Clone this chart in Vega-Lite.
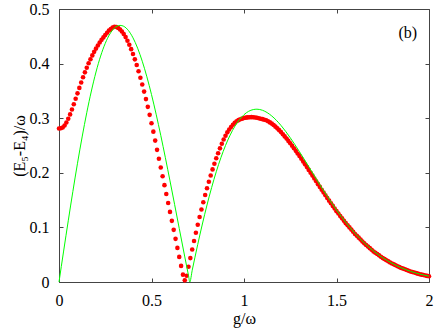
{
  "$schema": "https://vega.github.io/schema/vega-lite/v6.json",
  "width": 370,
  "height": 273,
  "autosize": {"type": "none"},
  "padding": {"left": 59, "top": 9, "right": 7, "bottom": 51},
  "config": {
    "view": {"stroke": "#444", "strokeWidth": 1},
    "font": "Liberation Serif",
    "axis": {
      "domain": false,
      "grid": false,
      "tickColor": "#444",
      "tickSize": -4,
      "labelFont": "Liberation Serif",
      "labelFontSize": 16,
      "labelColor": "#000",
      "labelFlush": false,
      "labelPadding": 14,
      "titleFont": "Liberation Serif",
      "titleFontSize": 16,
      "titleFontWeight": "normal",
      "titleColor": "#000"
    }
  },
  "datasets": {
    "red": [
      {"g":0.00,"e":0.281},{"g":0.01,"e":0.2815},{"g":0.02,"e":0.283},{"g":0.03,"e":0.2865},{"g":0.04,"e":0.292},
      {"g":0.05,"e":0.299},{"g":0.06,"e":0.307},{"g":0.07,"e":0.316},{"g":0.08,"e":0.3255},{"g":0.09,"e":0.3355},
      {"g":0.10,"e":0.3455},{"g":0.11,"e":0.3555},{"g":0.12,"e":0.3655},{"g":0.13,"e":0.375},{"g":0.14,"e":0.384},
      {"g":0.15,"e":0.3925},{"g":0.16,"e":0.4005},{"g":0.17,"e":0.408},{"g":0.18,"e":0.415},{"g":0.19,"e":0.4215},
      {"g":0.20,"e":0.4275},{"g":0.21,"e":0.433},{"g":0.22,"e":0.4385},{"g":0.23,"e":0.4435},{"g":0.24,"e":0.448},
      {"g":0.25,"e":0.4525},{"g":0.26,"e":0.4565},{"g":0.27,"e":0.4605},{"g":0.28,"e":0.4635},{"g":0.29,"e":0.466},
      {"g":0.30,"e":0.4675},{"g":0.31,"e":0.467},{"g":0.32,"e":0.4653},{"g":0.33,"e":0.4624},{"g":0.34,"e":0.4588},
      {"g":0.35,"e":0.4541},{"g":0.36,"e":0.4485},{"g":0.37,"e":0.4419},{"g":0.38,"e":0.4346},{"g":0.39,"e":0.4265},
      {"g":0.40,"e":0.4175},{"g":0.41,"e":0.4078},{"g":0.42,"e":0.3973},{"g":0.43,"e":0.3861},{"g":0.44,"e":0.3742},
      {"g":0.45,"e":0.3617},{"g":0.46,"e":0.3487},{"g":0.47,"e":0.335},{"g":0.48,"e":0.3208},{"g":0.49,"e":0.3061},
      {"g":0.50,"e":0.2909},{"g":0.51,"e":0.2754},{"g":0.52,"e":0.259},{"g":0.53,"e":0.242},{"g":0.54,"e":0.2258},
      {"g":0.55,"e":0.2097},{"g":0.56,"e":0.1936},{"g":0.57,"e":0.1774},{"g":0.58,"e":0.1612},{"g":0.59,"e":0.1448},
      {"g":0.60,"e":0.1284},{"g":0.61,"e":0.112},{"g":0.62,"e":0.0955},{"g":0.63,"e":0.079},{"g":0.64,"e":0.0625},
      {"g":0.65,"e":0.046},{"g":0.66,"e":0.0295},{"g":0.67,"e":0.0135},{"g":0.68,"e":0.003},{"g":0.69,"e":0.0114},
      {"g":0.70,"e":0.0278},{"g":0.71,"e":0.0438},{"g":0.72,"e":0.0595},{"g":0.73,"e":0.075},{"g":0.74,"e":0.0901},
      {"g":0.75,"e":0.1048},{"g":0.76,"e":0.119},{"g":0.77,"e":0.1328},{"g":0.78,"e":0.1462},{"g":0.79,"e":0.1592},
      {"g":0.80,"e":0.1717},{"g":0.81,"e":0.1837},{"g":0.82,"e":0.1952},{"g":0.83,"e":0.2062},{"g":0.84,"e":0.2166},
      {"g":0.85,"e":0.2265},{"g":0.86,"e":0.2359},{"g":0.87,"e":0.2448},{"g":0.88,"e":0.2532},{"g":0.89,"e":0.261},
      {"g":0.90,"e":0.2678},{"g":0.91,"e":0.2741},{"g":0.92,"e":0.2793},{"g":0.93,"e":0.2839},{"g":0.94,"e":0.288},
      {"g":0.95,"e":0.2917},{"g":0.96,"e":0.2943},{"g":0.97,"e":0.2964},{"g":0.98,"e":0.298},{"g":0.99,"e":0.2992},
      {"g":1.00,"e":0.3003},{"g":1.01,"e":0.301},{"g":1.02,"e":0.3015},{"g":1.03,"e":0.3018},{"g":1.04,"e":0.3019},
      {"g":1.05,"e":0.3018},{"g":1.06,"e":0.3014},{"g":1.07,"e":0.3007},{"g":1.08,"e":0.2998},{"g":1.09,"e":0.2991},
      {"g":1.10,"e":0.2983},{"g":1.11,"e":0.2973},{"g":1.12,"e":0.2961},{"g":1.13,"e":0.2943},{"g":1.14,"e":0.2923},
      {"g":1.15,"e":0.2901},{"g":1.16,"e":0.2874},{"g":1.17,"e":0.2845},{"g":1.18,"e":0.2814},{"g":1.19,"e":0.2781},
      {"g":1.20,"e":0.2747},{"g":1.21,"e":0.2707},{"g":1.22,"e":0.2667},{"g":1.23,"e":0.2626},{"g":1.24,"e":0.2584},
      {"g":1.25,"e":0.2542},{"g":1.26,"e":0.2495},{"g":1.27,"e":0.2449},{"g":1.28,"e":0.2402},{"g":1.29,"e":0.2354},
      {"g":1.30,"e":0.2306},{"g":1.31,"e":0.2256},{"g":1.32,"e":0.2205},{"g":1.33,"e":0.2155},{"g":1.34,"e":0.2104},
      {"g":1.35,"e":0.2053},{"g":1.36,"e":0.2001},{"g":1.37,"e":0.1949},{"g":1.38,"e":0.1896},{"g":1.39,"e":0.1844},
      {"g":1.40,"e":0.1792},{"g":1.41,"e":0.1742},{"g":1.42,"e":0.169},{"g":1.43,"e":0.164},{"g":1.44,"e":0.1589},
      {"g":1.45,"e":0.1538},{"g":1.46,"e":0.149},{"g":1.47,"e":0.1442},{"g":1.48,"e":0.1394},{"g":1.49,"e":0.1346},
      {"g":1.50,"e":0.1298},{"g":1.51,"e":0.1255},{"g":1.52,"e":0.121},{"g":1.53,"e":0.1166},{"g":1.54,"e":0.1121},
      {"g":1.55,"e":0.1078},{"g":1.56,"e":0.104},{"g":1.57,"e":0.1},{"g":1.58,"e":0.096},{"g":1.59,"e":0.092},
      {"g":1.60,"e":0.088},{"g":1.61,"e":0.0847},{"g":1.62,"e":0.0812},{"g":1.63,"e":0.0777},{"g":1.64,"e":0.0742},
      {"g":1.65,"e":0.0708},{"g":1.66,"e":0.0679},{"g":1.67,"e":0.0649},{"g":1.68,"e":0.062},{"g":1.69,"e":0.059},
      {"g":1.70,"e":0.056},{"g":1.71,"e":0.0537},{"g":1.72,"e":0.0512},{"g":1.73,"e":0.0488},{"g":1.74,"e":0.0463},
      {"g":1.75,"e":0.0438},{"g":1.76,"e":0.0419},{"g":1.77,"e":0.0399},{"g":1.78,"e":0.0378},{"g":1.79,"e":0.0358},
      {"g":1.80,"e":0.0338},{"g":1.81,"e":0.0323},{"g":1.82,"e":0.0306},{"g":1.83,"e":0.029},{"g":1.84,"e":0.0273},
      {"g":1.85,"e":0.0257},{"g":1.86,"e":0.0245},{"g":1.87,"e":0.0232},{"g":1.88,"e":0.0219},{"g":1.89,"e":0.0206},
      {"g":1.90,"e":0.0193},{"g":1.91,"e":0.0183},{"g":1.92,"e":0.0173},{"g":1.93,"e":0.0163},{"g":1.94,"e":0.0153},
      {"g":1.95,"e":0.0143},{"g":1.96,"e":0.0135},{"g":1.97,"e":0.0127},{"g":1.98,"e":0.012},{"g":1.99,"e":0.0112},
      {"g":2.00,"e":0.0104}
    ],
    "green": [
      {"g":0,"e":0},{"g":0.05,"e":0.1121},{"g":0.10,"e":0.2175},{"g":0.15,"e":0.31},{"g":0.20,"e":0.3846},
      {"g":0.25,"e":0.4371},{"g":0.30,"e":0.4652},{"g":0.33,"e":0.47},{"g":0.35,"e":0.4683},{"g":0.40,"e":0.4472},
      {"g":0.45,"e":0.4043},{"g":0.50,"e":0.3433},{"g":0.55,"e":0.2686},{"g":0.60,"e":0.1851},{"g":0.65,"e":0.098},
      {"g":0.68,"e":0.0459},{"g":0.70,"e":0.0119},{"g":0.707,"e":0},{"g":0.72,"e":0.0213},{"g":0.75,"e":0.0689},
      {"g":0.80,"e":0.141},{"g":0.85,"e":0.2019},{"g":0.90,"e":0.25},{"g":0.95,"e":0.2848},{"g":1.00,"e":0.3064},
      {"g":1.05,"e":0.3158},{"g":1.07,"e":0.3165},{"g":1.10,"e":0.3145},{"g":1.15,"e":0.3041},{"g":1.20,"e":0.2867},
      {"g":1.25,"e":0.2642},{"g":1.30,"e":0.2385},{"g":1.35,"e":0.2112},{"g":1.40,"e":0.1836},{"g":1.45,"e":0.157},
      {"g":1.50,"e":0.132},{"g":1.55,"e":0.1093},{"g":1.60,"e":0.0892},{"g":1.65,"e":0.0717},{"g":1.70,"e":0.0568},
      {"g":1.75,"e":0.0444},{"g":1.80,"e":0.0343},{"g":1.85,"e":0.0261},{"g":1.90,"e":0.0196},{"g":1.95,"e":0.0145},
      {"g":2.00,"e":0.0106}
    ]
  },
  "layer": [
    {
      "data": {"name": "red"},
      "mark": {"type": "circle", "color": "#ff0000", "size": 21, "opacity": 1},
      "encoding": {
        "x": {"field": "g", "type": "quantitative", "scale": {"domain": [0, 2]},
              "axis": {"orient": "bottom", "values": [0, 0.5, 1, 1.5, 2], "format": "~g", "title": "g/ω", "titlePadding": 2}},
        "y": {"field": "e", "type": "quantitative", "scale": {"domain": [0, 0.5]},
              "axis": {"orient": "left", "values": [0, 0.1, 0.2, 0.3, 0.4, 0.5], "format": "~g", "title": "(E₅-E₄)/ω", "titlePadding": 2}}
      }
    },
    {
      "data": {"name": "green"},
      "mark": {"type": "line", "color": "#00ff00", "strokeWidth": 1, "interpolate": "monotone"},
      "encoding": {
        "x": {"field": "g", "type": "quantitative", "scale": {"domain": [0, 2]},
              "axis": {"orient": "top", "values": [0, 0.5, 1, 1.5, 2], "labels": false, "title": null}},
        "y": {"field": "e", "type": "quantitative", "scale": {"domain": [0, 0.5]},
              "axis": {"orient": "right", "values": [0, 0.1, 0.2, 0.3, 0.4, 0.5], "labels": false, "title": null}}
      }
    },
    {
      "data": {"values": [{}]},
      "mark": {"type": "text", "text": "(b)", "font": "Liberation Serif", "fontSize": 16, "color": "#000", "align": "center", "baseline": "middle"},
      "encoding": {
        "x": {"datum": 1.885, "type": "quantitative", "axis": null},
        "y": {"datum": 0.456, "type": "quantitative", "axis": null}
      }
    }
  ],
  "resolve": {"axis": {"x": "independent", "y": "independent"}}
}
